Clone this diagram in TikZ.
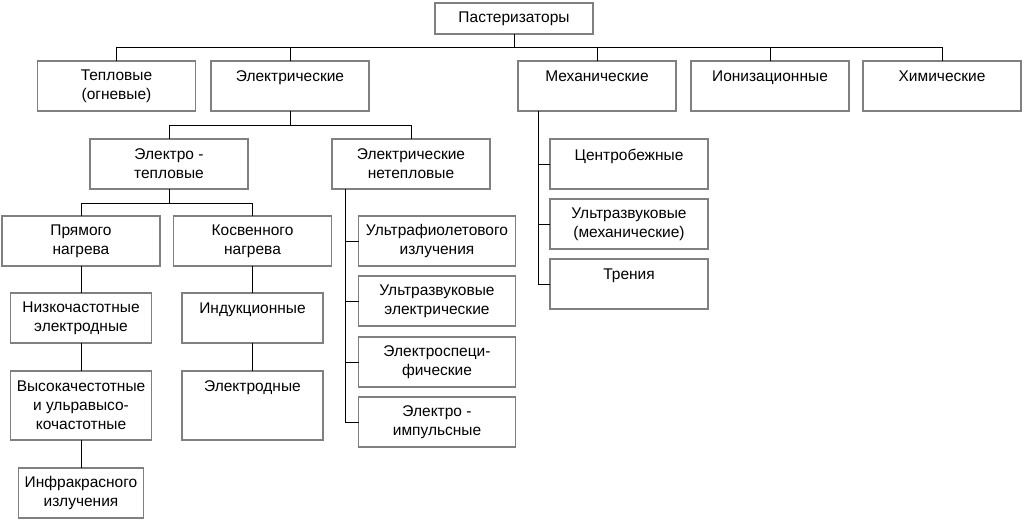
\documentclass[tikz,border=0pt]{standalone}
\usepackage{fontspec}
\setmainfont{Liberation Sans}
\usetikzlibrary{positioning}

\begin{document}
\begin{tikzpicture}[x=1pt, y=1pt, thin, box/.style = {draw=gray, line width=1.5pt, outer sep=0pt, minimum width=158pt, minimum height=50pt, align=center, inner sep=0pt, font=\fontsize{15.5}{19}\selectfont}]
		\useasboundingbox (0,0) rectangle (1029,-522);
		\node[box, minimum height=31pt] (past) at (514,-18.5) {Пастеризаторы};
		\node[box] (therm) at (116.5,-86) {Тепловые\\(огневые)};
		\node[box] (elec) [right=15.5pt of therm] {Электрические\\~};
		\node[box] (mech) [right=149pt of elec] {Механические\\~};
		\node[box] (ion) [right=15pt of mech] {Ионизационные\\~};
		\node[box] (chem) [right=14pt of ion] {Химические\\~};
		
		\node[box] (eth) [below=28pt of elec, xshift=-121pt] {Электро -\\тепловые};
		\node[box] (nth) [below=28pt of elec, xshift=121pt] {Электрические\\нетепловые};
		
		\node[box] (pr) [below=27pt of eth, xshift=-88pt] {Прямого\\нагрева};
		\node[box] (ks) [below=27pt of eth, xshift=83.5pt] {Косвенного\\нагрева};
		\node[box, minimum width=141pt] (nizk) [below=27pt of pr] {Низкочастотные\\электродные};
		\node[box, minimum width=141pt, minimum height=69pt] (vys) [below=28pt of nizk] {Высокачестотные\\и ульравысо-\\кочастотные};
		\node[box, minimum width=125pt] (infra) [below=28pt of vys] {Инфракрасного\\излучения};
		\node[box, minimum width=141pt] (ind) [below=27pt of ks] {Индукционные\\~};
		\node[box, minimum width=141pt, minimum height=69pt] (eld) [below=28pt of ind] {Электродные\\~\\~};
		
		\node[box, minimum width=157pt] (uv) [below=27pt of nth, xshift=26pt] {Ультрафиолетового\\излучения};
		\node[box, minimum width=157pt] (us) [below=10pt of uv] {Ультразвуковые\\электрические};
		\node[box, minimum width=157pt] (esp) [below=11pt of us] {Электроспеци-\\фические};
		\node[box, minimum width=157pt] (imp) [below=10pt of esp] {Электро -\\импульсные};
		
		\node[box] (cen) [below=28pt of mech, xshift=32pt] {Центробежные\\~};
		\node[box] (umech) [below=10pt of cen] {Ультразвуковые\\(механические)};
		\node[box] (tr) [below=10pt of umech] {Трения\\~};
		
		\foreach \n in {therm, elec, mech, ion, chem}
			\draw (past.south) -- ++(0,-13) -| (\n.north);
		\foreach \n in {eth, nth}
			\draw (elec.south) -- ++(0,-14) -| (\n.north);
		\foreach \n in {pr, ks}
			\draw (eth.south) -- ++(0,-14) -| (\n.north);
		\draw (pr) -- (nizk);
		\draw (nizk) -- (vys);
		\draw (vys) -- (infra);
		\draw (ks) -- (ind);
		\draw (ind) -- (eld);
		\foreach \n in {uv, us, esp, imp}
			\draw ([xshift=13pt]nth.south west) |- (\n.west);
		\foreach \n in {cen, umech, tr}
			\draw ([xshift=20pt]mech.south west) |- (\n.west);

	\end{tikzpicture}
\end{document}
